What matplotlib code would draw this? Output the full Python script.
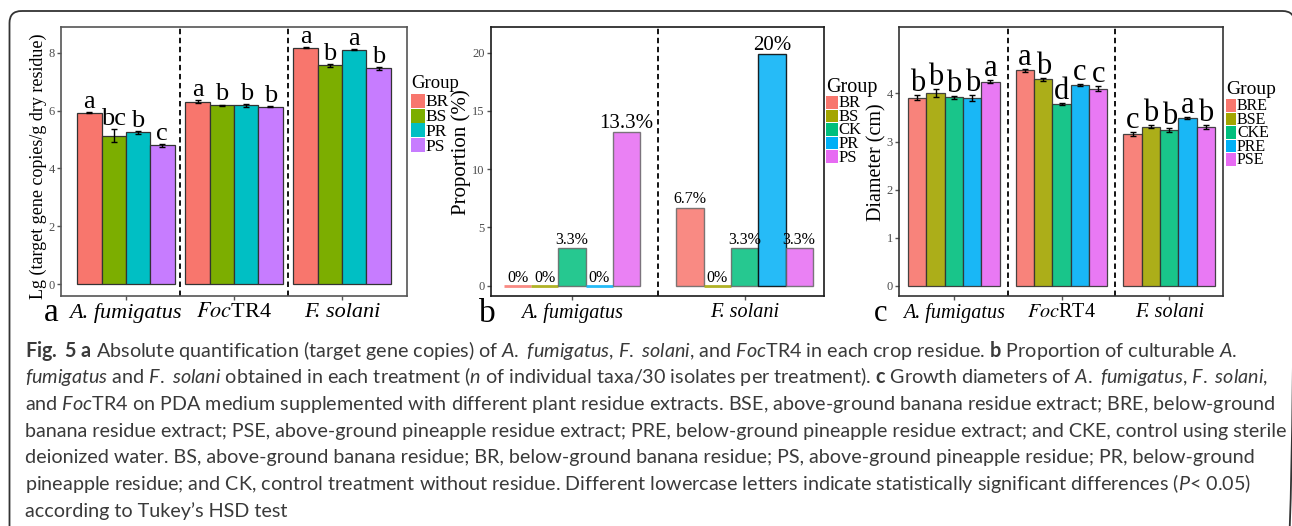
import re
import numpy as np
import matplotlib
matplotlib.use("Agg")
import matplotlib.pyplot as plt
from matplotlib.patches import Rectangle, FancyBboxPatch

W, H = 1292, 526

plt.rcParams.update({
    "font.family": "Liberation Serif",
    "mathtext.fontset": "custom",
    "mathtext.rm": "Lato",
    "mathtext.it": "Lato:italic",
    "mathtext.bf": "Lato:bold",
})

# ---- panel a: qPCR copies ----
qpcr_taxa = ["A. fumigatus", "FocTR4", "F. solani"]
qpcr_groups = ["BR", "BS", "PR", "PS"]
qpcr_mean = [[5.93, 5.13, 5.25, 4.80],
             [6.30, 6.18, 6.18, 6.14],
             [8.18, 7.57, 8.11, 7.46]]
qpcr_err = [[0.02, 0.22, 0.05, 0.05],
            [0.05, 0.03, 0.05, 0.03],
            [0.02, 0.05, 0.03, 0.05]]
qpcr_letters = [["a", "bc", "b", "c"],
                ["a", "b", "b", "b"],
                ["a", "b", "a", "b"]]

# ---- panel b: proportion of isolates ----
iso_taxa = ["A. fumigatus", "F. solani"]
iso_groups = ["BR", "BS", "CK", "PR", "PS"]
iso_prop = [[0, 0, 3.2, 0, 13.2],
            [6.7, 0, 3.2, 19.9, 3.2]]
iso_labels = [["0%", "0%", "3.3%", "0%", "13.3%"],
              ["6.7%", "0%", "3.3%", "20%", "3.3%"]]

# ---- panel c: growth diameter ----
dia_taxa = ["A. fumigatus", "FocRT4", "F. solani"]
dia_groups = ["BRE", "BSE", "CKE", "PRE", "PSE"]
dia_mean = [[3.91, 4.01, 3.92, 3.91, 4.24],
            [4.48, 4.29, 3.78, 4.18, 4.10],
            [3.16, 3.31, 3.24, 3.48, 3.31]]
dia_err = [[0.05, 0.08, 0.03, 0.06, 0.03],
           [0.03, 0.03, 0.02, 0.02, 0.05],
           [0.04, 0.03, 0.04, 0.02, 0.04]]
dia_letters = [["b", "b", "b", "b", "a"],
               ["a", "b", "d", "c", "c"],
               ["c", "b", "b", "a", "b"]]

caption_lines = [
    "#Fig. 5 a# Absolute quantification (target gene copies) of _A. fumigatus_, _F. solani_, and _Foc_TR4 in each crop residue. #b# Proportion of culturable _A._",
    "_fumigatus_ and _F. solani_ obtained in each treatment (_n_ of individual taxa/30 isolates per treatment). #c# Growth diameters of _A. fumigatus_, _F. solani_,",
    "and _Foc_TR4 on PDA medium supplemented with different plant residue extracts. BSE, above-ground banana residue extract; BRE, below-ground",
    "banana residue extract; PSE, above-ground pineapple residue extract; PRE, below-ground pineapple residue extract; and CKE, control using sterile",
    "deionized water. BS, above-ground banana residue; BR, below-ground banana residue; PS, above-ground pineapple residue; PR, below-ground",
    "pineapple residue; and CK, control treatment without residue. Different lowercase letters indicate statistically significant differences (_P_< 0.05)",
    "according to Tukey\u2019s HSD test",
]

gg4 = ["#F8766D", "#7CAE00", "#00BFC4", "#C77CFF"]
gg5 = ["#F8766D", "#A3A500", "#00BF7D", "#00B0F6", "#E76BF3"]


def fbox(l, t, r, b):
    return [l / W, 1 - b / H, (r - l) / W, (b - t) / H]


def to_mathtext(line):
    def wrap(cmd, seg):
        return " ".join(r"$\%s{%s}$" % (cmd, w) for w in seg.split(" "))
    line = re.sub(r"#(.+?)#", lambda m: wrap("mathbf", m.group(1)), line)
    line = re.sub(r"_(.+?)_", lambda m: wrap("mathit", m.group(1)), line)
    return line


def style_axes(ax, spine_color, xsize):
    for s in ax.spines.values():
        s.set_color(spine_color)
        s.set_linewidth(1.2)
    ax.tick_params(axis="both", length=3, width=1, color="#555555")
    ax.tick_params(axis="y", labelsize=9, labelcolor="#4d4d4d", pad=1.5)
    ax.tick_params(axis="x", labelsize=xsize, labelcolor="black", pad=2)


def set_taxa_ticks(ax, taxa):
    ax.set_xticks(np.arange(1, len(taxa) + 1))
    labs = ax.set_xticklabels([r"$\mathit{Foc}$" + t[3:] if t.startswith("Foc") else t
                               for t in taxa])
    for t, lab in zip(taxa, labs):
        if t.startswith("Foc"):
            lab.set_math_fontfamily("stix")
        else:
            lab.set_fontstyle("italic")


def grouped(ax, means, errs, letters, colors, width, edge, alpha, lsize):
    n = len(means[0])
    x = np.arange(1, len(means) + 1)
    for j in range(n):
        xs = x - width * n / 2 + width * (j + 0.5)
        vals = [m[j] for m in means]
        ax.bar(xs, vals, width, color=colors[j], alpha=alpha, edgecolor=edge,
               linewidth=0.9, zorder=2)
        e = [r[j] for r in errs]
        ax.errorbar(xs, vals, yerr=e, fmt="none", ecolor="black", elinewidth=1,
                    capsize=2, capthick=1, zorder=3)
        for xi, v, ei, lt in zip(xs, vals, e, [l[j] for l in letters]):
            ax.annotate(lt, (xi, v + ei), xytext=(0, 3), textcoords="offset points",
                        ha="center", va="baseline", fontsize=lsize)


def legend(bg, x, title_y, top, step, kw, kh, labels, colors, tsize, lsize, tx):
    bg.text(x, title_y, "Group", fontsize=tsize, va="baseline", ha="left")
    for i, (lab, c) in enumerate(zip(labels, colors)):
        y = top + i * step
        bg.add_patch(Rectangle((x, y), kw, kh, facecolor=c, edgecolor="none"))
        bg.text(tx, y + kh - 1.5, lab, fontsize=lsize, va="baseline", ha="left")


fig = plt.figure(figsize=(W / 100, H / 100), dpi=100)
bg = fig.add_axes([0, 0, 1, 1], zorder=0)
bg.set_xlim(0, W)
bg.set_ylim(H, 0)
bg.axis("off")

# outer frame
bg.add_patch(FancyBboxPatch((9.5, 11), 1285, 600, boxstyle="round,pad=0,rounding_size=12",
                            facecolor="none", edgecolor="#333333", linewidth=1.3))

# panel a
axa = fig.add_axes(fbox(61, 27, 407, 296), zorder=1)
grouped(axa, qpcr_mean, qpcr_err, qpcr_letters, gg4, 0.225, "#333333", 1.0, 19)
axa.set_xlim(0.40, 3.60)
axa.set_ylim(-0.41, 8.89)
axa.set_yticks([0, 2, 4, 6, 8])
for xv in [1.5, 2.5]:
    axa.axvline(xv, color="black", lw=1.3, ls=(0, (3, 2)), zorder=1)
set_taxa_ticks(axa, qpcr_taxa)
style_axes(axa, "#555555", 16)
legend(bg, 411, 88, 94, 14.7, 13.5, 14, qpcr_groups, gg4, 13.5, 12.5, 425.5)
bg.text(38, 166, "Lg (target gene copies/g dry residue)", rotation=90, fontsize=13,
        ha="center", va="center")
bg.text(51, 321, "a", fontsize=24, ha="center", va="baseline")

# panel b
axb = fig.add_axes(fbox(491, 27, 824, 296), zorder=1)
wb = 0.158
xb = np.arange(1, len(iso_taxa) + 1)
for j, g in enumerate(iso_groups):
    xs = xb - wb * 5 / 2 + wb * (j + 0.5)
    vals = [p[j] for p in iso_prop]
    edges = [gg5[j] if v == 0 else ("black" if g == "PR" else "#666666") for v in vals]
    lws = [2.0 if v == 0 else 1.0 for v in vals]
    axb.bar(xs, vals, wb, color=gg5[j], alpha=0.85, edgecolor=edges, linewidth=lws, zorder=2)
    for xi, v, lab in zip(xs, vals, [l[j] for l in iso_labels]):
        axb.annotate(lab, (xi, v), xytext=(0, 3), textcoords="offset points",
                     ha="center", va="baseline", fontsize=15 if v > 10 else 11.5)
axb.set_xlim(0.53, 2.46)
axb.set_ylim(-0.88, 22.2)
axb.set_yticks([0, 5, 10, 15, 20])
axb.axvline(1.5, color="black", lw=1.3, ls=(0, (3, 2)), zorder=1)
set_taxa_ticks(axb, iso_taxa)
style_axes(axb, "#1a1a1a", 14.5)
legend(bg, 826, 92, 96, 13.6, 11.5, 12.6, iso_groups, gg5, 14.5, 12, 838.5)
bg.text(461.5, 152, "Proportion (%)", rotation=90, fontsize=15, ha="center", va="center")
bg.text(487, 322, "b", fontsize=24, ha="center", va="baseline")

# panel c
axc = fig.add_axes(fbox(899, 27, 1223, 296), zorder=1)
grouped(axc, dia_mean, dia_err, dia_letters, gg5, 0.17, "#333333", 0.9, 22)
axc.set_xlim(0.49, 3.50)
axc.set_ylim(-0.21, 5.38)
axc.set_yticks([0, 1, 2, 3, 4])
for xv in [1.5, 2.5]:
    axc.axvline(xv, color="black", lw=1.3, ls=(0, (3, 2)), zorder=1)
set_taxa_ticks(axc, dia_taxa)
style_axes(axc, "#333333", 14.5)
legend(bg, 1226, 94.5, 99, 13.6, 10, 12.6, dia_groups, gg5, 14, 11.5, 1237)
bg.text(877, 162, "Diameter (cm)", rotation=90, fontsize=14.5, ha="center", va="center")
bg.text(881, 321, "c", fontsize=22, ha="center", va="baseline")

# caption
for i, line in enumerate(caption_lines):
    bg.text(25, 356.7 + i * 26.67, to_mathtext(line), fontsize=14.2, family="Lato",
            color="#3a3a3a", ha="left", va="baseline")

fig.savefig("out.png", dpi=100)
